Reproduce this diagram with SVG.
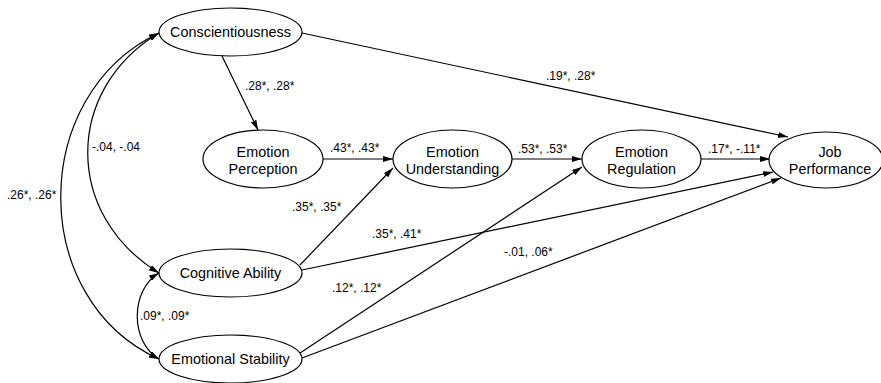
<svg xmlns="http://www.w3.org/2000/svg" width="881" height="383" viewBox="0 0 881 383">
<style>
.node ellipse{fill:#fff;stroke:#000;stroke-width:1.2}
.node text{font-family:"Liberation Sans",Arial,sans-serif;font-size:14.4px;text-anchor:middle;fill:#000}
.edges path,.edges line{fill:none;stroke:#000;stroke-width:1.2}
.lbl{font-family:"Liberation Sans",Arial,sans-serif;font-size:12px;fill:#000}
</style>
<defs>
<marker id="ah" viewBox="0 0 10 6" refX="10" refY="3" markerWidth="10" markerHeight="6" markerUnits="userSpaceOnUse" orient="auto-start-reverse">
<path d="M0,0 L10,3 L0,6 Z" fill="#000"/>
</marker>
</defs>
<g class="edges">
<line x1="222" y1="56" x2="258" y2="130" marker-end="url(#ah)"/>
<line x1="302" y1="33" x2="788" y2="137" marker-end="url(#ah)"/>
<line x1="323" y1="159" x2="393" y2="159" marker-end="url(#ah)"/>
<line x1="512" y1="159" x2="582" y2="159" marker-end="url(#ah)"/>
<line x1="701" y1="159" x2="770" y2="159" marker-end="url(#ah)"/>
<line x1="300" y1="265" x2="393" y2="168" marker-end="url(#ah)"/>
<line x1="302" y1="270" x2="773" y2="172" marker-end="url(#ah)"/>
<line x1="300" y1="353" x2="582" y2="167" marker-end="url(#ah)"/>
<line x1="302" y1="358" x2="781" y2="178" marker-end="url(#ah)"/>
<path d="M159,33 C64,90 64,215 159,273" marker-start="url(#ah)" marker-end="url(#ah)"/>
<path d="M159,33 C28,95 28,300 159,359" marker-start="url(#ah)" marker-end="url(#ah)"/>
<path d="M159,273 C130,290 130,342 159,359" marker-start="url(#ah)" marker-end="url(#ah)"/>
<text class="lbl" x="245" y="90">.28*, .28*</text>
<text class="lbl" x="546" y="80">.19*, .28*</text>
<text class="lbl" x="330" y="152">.43*, .43*</text>
<text class="lbl" x="518" y="153">.53*, .53*</text>
<text class="lbl" x="708" y="153">.17*, -.11*</text>
<text class="lbl" x="292" y="211">.35*, .35*</text>
<text class="lbl" x="372" y="238">.35*, .41*</text>
<text class="lbl" x="332" y="292">.12*, .12*</text>
<text class="lbl" x="504" y="256">-.01, .06*</text>
<text class="lbl" x="92" y="151">-.04, -.04</text>
<text class="lbl" x="7" y="199">.26*, .26*</text>
<text class="lbl" x="140" y="320">.09*, .09*</text>
</g>
<g id="conscientiousness" class="node"><ellipse cx="230.5" cy="32" rx="71.5" ry="24"/><text x="230.5" y="37">Conscientiousness</text></g>
<g id="emotion-perception" class="node"><ellipse cx="263" cy="159" rx="60" ry="29"/><text x="263" y="157">Emotion</text><text x="263" y="174">Perception</text></g>
<g id="emotion-understanding" class="node"><ellipse cx="452.5" cy="159" rx="59.5" ry="29"/><text x="452.5" y="157">Emotion</text><text x="452.5" y="174">Understanding</text></g>
<g id="emotion-regulation" class="node"><ellipse cx="641.5" cy="159" rx="59.5" ry="29"/><text x="641.5" y="157">Emotion</text><text x="641.5" y="174">Regulation</text></g>
<g id="job-performance" class="node"><ellipse cx="826" cy="160" rx="57" ry="28"/><text x="830" y="157">Job</text><text x="830" y="174">Performance</text></g>
<g id="cognitive-ability" class="node"><ellipse cx="230.5" cy="273" rx="71.5" ry="24"/><text x="230.5" y="278">Cognitive Ability</text></g>
<g id="emotional-stability" class="node"><ellipse cx="230.5" cy="359" rx="71.5" ry="24"/><text x="230.5" y="364">Emotional Stability</text></g>
</svg>
